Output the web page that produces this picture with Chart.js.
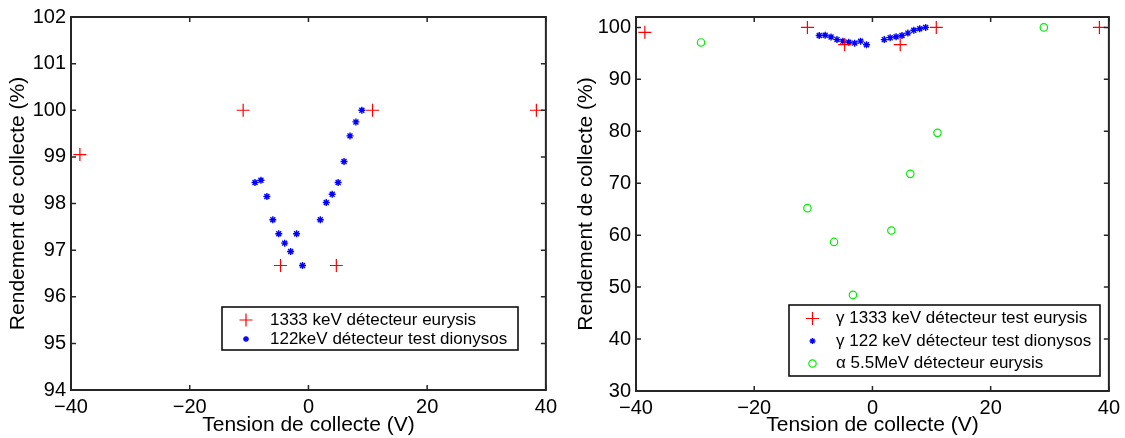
<!DOCTYPE html>
<html>
<head>
<meta charset="utf-8">
<script src="https://cdn.jsdelivr.net/npm/chart.js@4/dist/chart.umd.min.js"></script>
<style>
  body { margin: 0; background: #fff; }
  #wrap { position: relative; width: 1125px; height: 438px; }
  #left { position: absolute; left: 0; top: 0; }
  #right { position: absolute; left: 562px; top: 0; }
</style>
</head>
<body>
<div id="wrap">
  <canvas id="left" width="562" height="438"></canvas>
  <canvas id="right" width="563" height="438"></canvas>
</div>
<script>
// gamma 1333 keV (eurysis)
const gammaHighX = [-38.5, -11, -4.7, 4.7, 10.8, 38.4];
const gammaHighY = [99.05, 100, 96.67, 96.67, 100, 100];
// gamma 122 keV (dionysos)
const gammaLowX = [-9, -8, -7, -6, -5, -4, -3, -2, -1, 2, 3, 4, 5, 6, 7, 8, 9];
const gammaLowY = [98.45, 98.5, 98.15, 97.65, 97.35, 97.15, 96.97, 97.35, 96.67,
                   97.65, 98.02, 98.2, 98.45, 98.9, 99.45, 99.75, 100];
// alpha 5.5 MeV (eurysis)
const alphaX = [-29, -11, -6.5, -3.3, 3.2, 6.4, 11, 29];
const alphaY = [97.1, 65.2, 58.7, 48.5, 60.9, 71.8, 79.7, 100];

const xTicks = [-40, -20, 0, 20, 40];
const yTicksLeft = [94, 95, 96, 97, 98, 99, 100, 101, 102];
const yTicksRight = [30, 40, 50, 60, 70, 80, 90, 100];

const FONT = '"Liberation Sans", Arial, Helvetica, sans-serif';

function pts(xs, ys) {
  return xs.map((v, i) => ({ x: v, y: ys[i] }));
}
function fmt(v) {
  return v < 0 ? '\u2212' + Math.abs(v) : String(v);
}

// draws the box around the axes and the inward ticks on all four sides
const boxPlugin = {
  id: 'boxAxes',
  afterDraw(chart) {
    const ctx = chart.ctx;
    const a = chart.chartArea;
    const x = chart.scales.x, y = chart.scales.y;
    const L = 5;
    ctx.save();
    ctx.strokeStyle = '#262626';
    ctx.lineWidth = 1.5;
    ctx.beginPath();
    x.ticks.forEach(t => {
      const p = x.getPixelForValue(t.value);
      ctx.moveTo(p, a.bottom); ctx.lineTo(p, a.bottom - L);
      ctx.moveTo(p, a.top); ctx.lineTo(p, a.top + L);
    });
    y.ticks.forEach(t => {
      const p = y.getPixelForValue(t.value);
      ctx.moveTo(a.left, p); ctx.lineTo(a.left + L, p);
      ctx.moveTo(a.right, p); ctx.lineTo(a.right - L, p);
    });
    ctx.stroke();
    ctx.lineWidth = 2;
    ctx.strokeRect(a.left, a.top, a.width, a.height);
    ctx.restore();
  }
};

function drawMarker(ctx, style, color, r, cx, cy, w) {
  ctx.strokeStyle = color;
  ctx.lineWidth = w;
  ctx.beginPath();
  if (style === 'cross' || style === 'star') {
    ctx.moveTo(cx - r, cy); ctx.lineTo(cx + r, cy);
    ctx.moveTo(cx, cy - r); ctx.lineTo(cx, cy + r);
  }
  if (style === 'star') {
    const d = r * 0.707;
    ctx.moveTo(cx - d, cy - d); ctx.lineTo(cx + d, cy + d);
    ctx.moveTo(cx - d, cy + d); ctx.lineTo(cx + d, cy - d);
  }
  if (style === 'circle') {
    ctx.arc(cx, cy, r, 0, Math.PI * 2);
  }
  ctx.stroke();
}

// legend box drawn inside the plot area
const legendPlugin = {
  id: 'boxLegend',
  afterDraw(chart, args, opts) {
    if (!opts.box) return;
    const ctx = chart.ctx;
    const [bx, by, bw, bh] = opts.box;
    ctx.save();
    ctx.fillStyle = '#fff';
    ctx.fillRect(bx, by, bw, bh);
    ctx.strokeStyle = '#000';
    ctx.lineWidth = 1.5;
    ctx.strokeRect(bx, by, bw, bh);
    ctx.font = '17px ' + FONT;
    ctx.textBaseline = 'middle';
    chart.data.datasets.forEach((ds, i) => {
      const cy = by + opts.firstRow + i * opts.rowGap;
      drawMarker(ctx, ds.pointStyle, ds.pointBorderColor, ds.legendRadius, bx + opts.markerX, cy, ds.pointBorderWidth);
      ctx.fillStyle = '#000';
      ctx.fillText(ds.label, bx + opts.textX, cy);
    });
    ctx.restore();
  }
};

function makeChart(id, datasets, yMin, yMax, yTicks, yAxisW, xAxisH, rightPad, titlePad, legend) {
  return new Chart(document.getElementById(id), {
    type: 'scatter',
    data: { datasets: datasets },
    options: {
      responsive: false,
      animation: false,
      layout: { padding: { top: 13, right: rightPad, left: 0, bottom: 0 } },
      plugins: {
        legend: { display: false },
        tooltip: { enabled: false },
        boxLegend: legend
      },
      scales: {
        x: {
          type: 'linear',
          min: -40, max: 40,
          grid: { display: false, drawTicks: false },
          border: { display: false },
          afterBuildTicks: s => { s.ticks = xTicks.map(v => ({ value: v })); },
          afterFit: s => { s.height = xAxisH; },
          ticks: {
            color: '#000', padding: 5, maxRotation: 0,
            font: { family: FONT, size: 20 },
            callback: v => fmt(v)
          },
          title: {
            display: true, text: 'Tension de collecte (V)', color: '#000',
            font: { family: FONT, size: 21 }, padding: { top: 0, bottom: 0 }
          }
        },
        y: {
          type: 'linear',
          min: yMin, max: yMax,
          grid: { display: false, drawTicks: false },
          border: { display: false },
          afterBuildTicks: s => { s.ticks = yTicks.map(v => ({ value: v })); },
          afterFit: s => { s.width = yAxisW; },
          ticks: {
            color: '#000', padding: 5,
            font: { family: FONT, size: 20 },
            callback: v => fmt(v)
          },
          title: {
            display: true, text: 'Rendement de collecte (%)', color: '#000',
            font: { family: FONT, size: 21 }, padding: { top: titlePad, bottom: 0 }
          }
        }
      }
    },
    plugins: [boxPlugin, legendPlugin]
  });
}

function ds(label, data, style, color, r, lr, w) {
  return {
    label: label,
    data: data,
    showLine: false,
    pointStyle: style,
    pointRadius: r,
    pointBorderColor: color,
    pointBackgroundColor: 'rgba(0,0,0,0)',
    pointBorderWidth: w,
    legendRadius: lr
  };
}

makeChart('left', [
  ds('1333 keV détecteur eurysis', pts(gammaHighX, gammaHighY), 'cross', '#ff0000', 6.5, 6.5, 1.2),
  ds('122keV détecteur test dionysos', pts(gammaLowX, gammaLowY), 'star', '#0000ff', 3.5, 3, 1.4)
], 94, 102, yTicksLeft, 71, 48, 13, 6,
  { box: [222, 307, 296, 43], firstRow: 13, rowGap: 19, markerX: 24, textX: 48 });

makeChart('right', [
  ds('\u03b3 1333 keV détecteur test eurysis', pts(gammaHighX, gammaHighY), 'cross', '#ff0000', 6.5, 6.5, 1.2),
  ds('\u03b3 122 keV détecteur test dionysos', pts(gammaLowX, gammaLowY), 'star', '#0000ff', 3.5, 3, 1.4),
  ds('\u03b1 5.5MeV détecteur eurysis', pts(alphaX, alphaY), 'circle', '#00ee00', 3.7, 3.7, 1.2)
], 30, 102, yTicksRight, 74, 47, 13, 12,
  { box: [227, 305, 311, 71], firstRow: 13.5, rowGap: 22.5, markerX: 23.5, textX: 47 });
</script>
</body>
</html>
